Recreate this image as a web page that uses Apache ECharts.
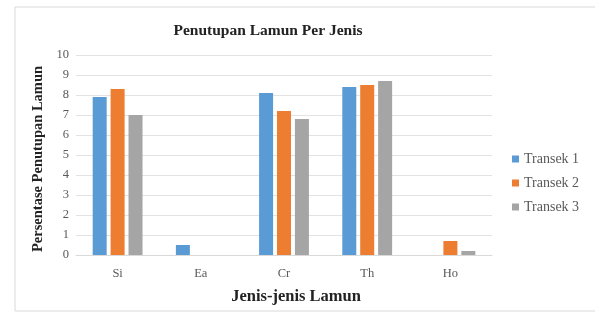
<!DOCTYPE html>
<html>
<head>
<meta charset="utf-8">
<script src="https://cdn.jsdelivr.net/npm/echarts@6/dist/echarts.min.js"></script>
<style>
html,body{margin:0;padding:0;background:#fff;}
#chart{width:595px;height:320px;}
</style>
</head>
<body>
<div id="chart"></div>
<script>
// Seagrass species and coverage per transect
const categories = ['Si', 'Ea', 'Cr', 'Th', 'Ho'];
const transek1 = [7.9, 0.5, 8.1, 8.4, 0];
const transek2 = [8.3, 0, 7.2, 8.5, 0.7];
const transek3 = [7.0, 0, 6.8, 8.7, 0.2];
const seriesNames = ['Transek 1', 'Transek 2', 'Transek 3'];
const yTicks = [0, 1, 2, 3, 4, 5, 6, 7, 8, 9, 10];

const serif = '"Liberation Serif", "Times New Roman", serif';
const colors = ['#5B9BD5', '#ED7D31', '#A5A5A5'];

const chart = echarts.init(document.getElementById('chart'));
const seriesData = [transek1, transek2, transek3];

chart.setOption({
  animation: false,
  color: colors,
  graphic: [{
    type: 'rect',
    shape: { x: 15, y: 7, width: 590, height: 304 },
    style: { fill: 'none', stroke: '#d9d9d9', lineWidth: 1 },
    silent: true
  }],
  title: {
    text: 'Penutupan Lamun Per Jenis',
    left: 263,
    top: 18,
    textAlign: 'center',
    textStyle: { fontFamily: serif, fontSize: 15.5, fontWeight: 'bold', color: '#222' }
  },
  legend: {
    orient: 'vertical',
    left: 507,
    top: 147,
    itemWidth: 7,
    itemHeight: 7,
    itemGap: 10,
    icon: 'rect',
    data: seriesNames,
    textStyle: { fontFamily: serif, fontSize: 14, color: '#595959' }
  },
  grid: { left: 76, right: 103, top: 55, bottom: 65, containLabel: false },
  xAxis: {
    type: 'category',
    data: categories,
    name: 'Jenis-jenis Lamun',
    nameLocation: 'middle',
    nameGap: 33,
    nameTextStyle: { fontFamily: serif, fontSize: 16.5, fontWeight: 'bold', color: '#222', padding: [0, 0, 0, 24] },
    axisLine: { lineStyle: { color: '#d9d9d9' } },
    axisTick: { show: false },
    axisLabel: { fontFamily: serif, fontSize: 12.5, color: '#595959', margin: 12 }
  },
  yAxis: {
    type: 'value',
    min: yTicks[0],
    max: yTicks[yTicks.length - 1],
    interval: 1,
    name: 'Persentase Penutupan Lamun',
    nameLocation: 'middle',
    nameGap: 30,
    nameTextStyle: { fontFamily: serif, fontSize: 14.5, fontWeight: 'bold', color: '#222', padding: [0, 8, 0, 0] },
    axisLine: { show: false },
    axisTick: { show: false },
    axisLabel: { fontFamily: serif, fontSize: 12.5, color: '#595959', margin: 7 },
    splitLine: { lineStyle: { color: '#e3e3e3' } }
  },
  series: seriesNames.map((name, i) => ({
    name: name,
    type: 'bar',
    data: seriesData[i],
    barWidth: 14,
    barGap: '28%'
  }))
});
</script>
</body>
</html>
